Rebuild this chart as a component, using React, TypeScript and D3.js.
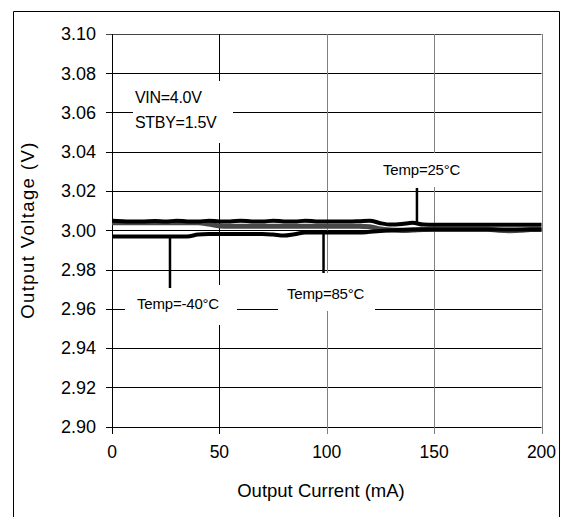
import React from "react";
import * as d3 from "d3";

const current = [0,5,10,15,20,25,30,35,40,45,50,55,60,65,70,75,80,85,90,95,100,105,110,115,120,125,130,135,140,145,150,155,160,165,170,175,180,185,190,195,200];

const temp25 = [
  3.0048,3.0046,3.0044,3.0045,3.0047,3.0044,3.0049,3.0045,3.0044,3.0049,
  3.0045,3.0045,3.0049,3.0045,3.0044,3.0049,3.0045,3.0044,3.0049,3.0045,
  3.0044,3.0045,3.0044,3.0046,3.0049,3.0036,3.0029,3.0032,3.0038,3.0029,
  3.0028,3.0028,3.0028,3.0028,3.0028,3.0028,3.0028,3.0028,3.0028,3.0028,3.0028
];

const temp85 = [
  3.0038,3.0038,3.0038,3.0038,3.0038,3.0038,3.0038,3.0038,3.0038,3.0032,
  3.0022,3.0021,3.0021,3.0021,3.0021,3.0021,3.0021,3.0021,3.0021,3.0021,
  3.0021,3.0021,3.0021,3.0021,3.0018,3.0006,3.0001,2.9999,3.0001,3.0004,
  3.0005,3.0005,3.0005,3.0005,3.0005,3.0005,3.0000,2.9998,3.0000,3.0004,3.0004
];

const tempM40 = [
  2.9968,2.9968,2.9968,2.9968,2.9968,2.9968,2.9968,2.9968,2.9978,2.9981,
  2.9981,2.9981,2.9981,2.9981,2.9981,2.9978,2.9973,2.9980,2.9988,2.9988,
  2.9988,2.9988,2.9988,2.9988,2.9992,2.9996,3.0000,3.0003,3.0004,3.0004,
  3.0004,3.0004,3.0004,3.0004,3.0004,3.0004,3.0004,3.0004,3.0004,3.0004,3.0004
];

const yTicks = [2.90,2.92,2.94,2.96,2.98,3.00,3.02,3.04,3.06,3.08,3.10];
const xTicks = [0,50,100,150,200];

const FONT = "'Liberation Sans', Arial, sans-serif";

export default function App() {
  const x = d3.scaleLinear().domain([0, 200]).range([112, 541.5]);
  const y = d3.scaleLinear().domain([2.9, 3.1]).range([426.5, 34]);

  const line = (vals: number[]) =>
    d3.line<number>()
      .x((_, i) => x(current[i]))
      .y((v) => y(v))
      .curve(d3.curveMonotoneX)(vals) || "";

  const gridColor = (t: number) => (t === 0 || t === 50 ? "#000" : "#808080");

  return (
    <svg width={570} height={517} style={{ position: "absolute", left: 0, top: 0, background: "#fff" }}>
      <rect x={0} y={0} width={570} height={517} fill="#fff" />
      {/* outer frame */}
      <path d="M13.5,530 V11.5 H559.5 V530" fill="none" stroke="#000" strokeWidth={1} />

      {/* horizontal grid */}
      {yTicks.map((t) => (
        <line key={"h" + t} x1={106} x2={541.5} y1={Math.round(y(t)) + 0.5} y2={Math.round(y(t)) + 0.5}
          stroke={t === 3.1 ? "#444" : "#000"} strokeWidth={1} />
      ))}
      {/* vertical grid */}
      {xTicks.map((t) => (
        <line key={"v" + t} x1={Math.round(x(t)) + 0.5} x2={Math.round(x(t)) + 0.5} y1={34} y2={434}
          stroke={gridColor(t)} strokeWidth={1} />
      ))}

      {/* white label boxes */}
      <rect x={133} y={81} width={100} height={62} fill="#fff" />
      <rect x={372} y={153} width={100} height={34} fill="#fff" />
      <rect x={125} y={285} width={112} height={40} fill="#fff" />
      <rect x={278} y={273} width={97} height={38} fill="#fff" />

      {/* data lines */}
      <path d={line(temp85)} fill="none" stroke="#484848" strokeWidth={5} />
      <path d={line(tempM40)} fill="none" stroke="#000" strokeWidth={4} />
      <path d={line(temp25)} fill="none" stroke="#000" strokeWidth={4} />

      {/* leaders */}
      <line x1={x(142)} x2={x(142)} y1={188} y2={y(3.0040)} stroke="#000" strokeWidth={2.5} />
      <line x1={x(27)} x2={x(27)} y1={y(2.9968)} y2={288} stroke="#000" strokeWidth={2.5} />
      <line x1={x(98.5)} x2={x(98.5)} y1={y(2.9988)} y2={273} stroke="#000" strokeWidth={2.5} />

      {/* annotations */}
      <g fontFamily={FONT} fill="#000" fontSize={16}>
        <text x={135} y={103} letterSpacing={-0.3}>VIN=4.0V</text>
        <text x={135} y={128} letterSpacing={-0.3}>STBY=1.5V</text>
      </g>
      <g fontFamily={FONT} fill="#000" fontSize={15}>
        <text x={383} y={175} letterSpacing={-0.2}>Temp=25°C</text>
        <text x={137} y={309} letterSpacing={-0.2}>Temp=-40°C</text>
        <text x={287} y={299} letterSpacing={-0.2}>Temp=85°C</text>
      </g>

      {/* y tick labels */}
      {yTicks.map((t) => (
        <text key={"yl" + t} x={96} y={y(t)} dy="0.36em" textAnchor="end" fontFamily={FONT} fontSize={18}>
          {t.toFixed(2)}
        </text>
      ))}
      {/* x tick labels */}
      {xTicks.map((t) => (
        <text key={"xl" + t} x={x(t)} y={458} textAnchor="middle" fontFamily={FONT} fontSize={17.5}>
          {t}
        </text>
      ))}

      <text x={321} y={497} textAnchor="middle" fontFamily={FONT} fontSize={18.5}>Output Current (mA)</text>
      <text transform="translate(34,230) rotate(-90)" textAnchor="middle" fontFamily={FONT} fontSize={18.5} letterSpacing={1.4}>
        Output Voltage (V)
      </text>
    </svg>
  );
}
